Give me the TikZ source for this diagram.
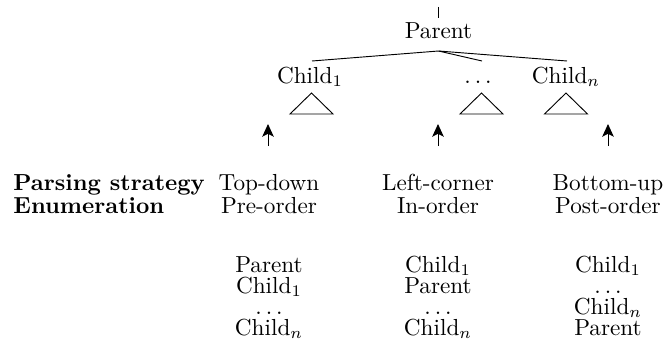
\documentclass[tikz,border=0pt]{standalone}
\usetikzlibrary{arrows.meta}
\begin{document}
\begin{tikzpicture}[x=0.431pt,y=-0.431pt,
  txt/.style={inner sep=0pt, anchor=base},
  lbl/.style={inner sep=0pt, anchor=base west, font=\bfseries},
  tri/.style={draw},
  uparrow/.style={-{Stealth[length=5.5pt,width=5pt,inset=1.3pt]}}]
\useasboundingbox (0,0) rectangle (666,358);
% top tick
\coordinate (tt) at (438.5,7);
\coordinate (tb) at (438.5,18);
\draw (tt) -- (tb);
% tree
\node[txt] (p) at (438.5,39) {Parent};
\node[txt] (c1) at (310,83) {Child$_1$};
\node[txt] (cd) at (478,83) {$\dots$};
\node[txt] (cn) at (566,83) {Child$_n$};
\coordinate (pa) at (438.5,51);
\coordinate (c1t) at (312,61);
\coordinate (cdt) at (482,61);
\coordinate (cnt) at (567,61);
\draw (pa) -- (c1t);
\draw (pa) -- (cdt);
\draw (pa) -- (cnt);
% triangles
\coordinate (t1) at (311.5,93);
\coordinate (t2) at (481.5,93);
\coordinate (t3) at (566,93);
\draw[tri] (t1) -- ++(-21.5,21) -- ++(43,0) -- cycle;
\draw[tri] (t2) -- ++(-21.5,21) -- ++(43,0) -- cycle;
\draw[tri] (t3) -- ++(-21.5,21) -- ++(43,0) -- cycle;
% arrows
\coordinate (a1b) at (268,146);
\coordinate (a1h) at (268,124);
\coordinate (a2b) at (438,146);
\coordinate (a2h) at (438,124);
\coordinate (a3b) at (608,146);
\coordinate (a3h) at (608,124);
\draw[uparrow] (a1b) -- (a1h);
\draw[uparrow] (a2b) -- (a2h);
\draw[uparrow] (a3b) -- (a3h);
% rows
\node[lbl] (ps) at (13,190) {Parsing strategy};
\node[lbl] (en) at (13,213) {Enumeration};
\node[txt] (td) at (269,190) {Top-down};
\node[txt] (lc) at (438,190) {Left-corner};
\node[txt] (bu) at (608,190) {Bottom-up};
\node[txt] (pre) at (269,213) {Pre-order};
\node[txt] (ino) at (438,213) {In-order};
\node[txt] (post) at (608,213) {Post-order};
% lists
\node[txt] (l11) at (269,272) {Parent};
\node[txt] (l12) at (269,293) {Child$_1$};
\node[txt] (l13) at (269,314) {$\dots$};
\node[txt] (l14) at (269,335) {Child$_n$};
\node[txt] (l21) at (438,272) {Child$_1$};
\node[txt] (l22) at (438,293) {Parent};
\node[txt] (l23) at (438,314) {$\dots$};
\node[txt] (l24) at (438,335) {Child$_n$};
\node[txt] (l31) at (608,272) {Child$_1$};
\node[txt] (l32) at (608,293) {$\dots$};
\node[txt] (l33) at (608,314) {Child$_n$};
\node[txt] (l34) at (608,335) {Parent};
\end{tikzpicture}
\end{document}
